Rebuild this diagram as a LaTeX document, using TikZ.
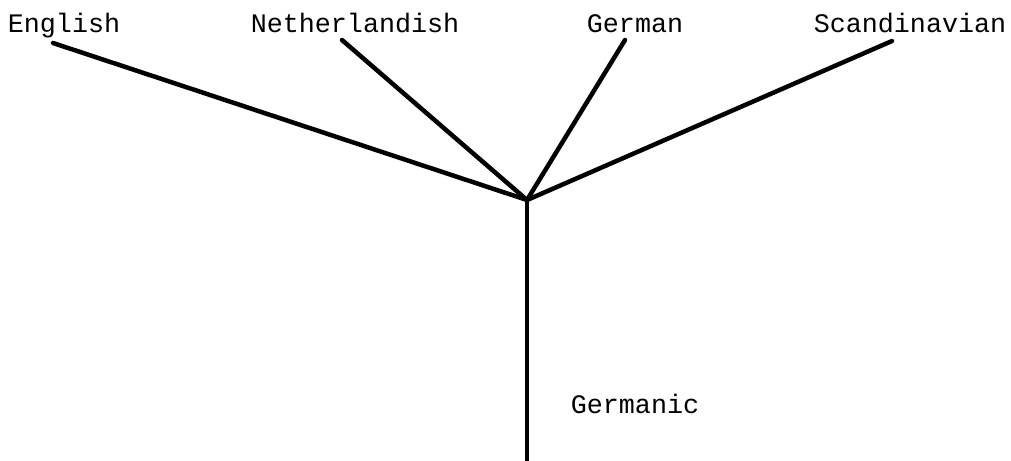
\documentclass[tikz,border=0pt]{standalone}
\usepackage{fontspec}
\setmonofont{Liberation Mono}
\usepackage{tikz}
\usetikzlibrary{positioning}

\begin{document}
\begin{tikzpicture}[
    x=0.025cm, y=-0.025cm,
    lang/.style={font=\ttfamily\fontsize{19}{19}\selectfont, inner sep=0pt, anchor=base},
    branch/.style={line width=3.2pt, line cap=round},
]
\useasboundingbox (0,0) rectangle (1011,460);

% labels
\node[lang] (english) at (64,32) {English};
\node[lang] (nether) at (355,32) {Netherlandish};
\node[lang] (german) at (635,32) {German};
\node[lang] (scand) at (910,32) {Scandinavian};
\node[lang] (germanic) at (635,413) {Germanic};

% branch ends
\coordinate (hub) at (527,200);
\coordinate (en) at (53,43);
\coordinate (ne) at (342,40);
\coordinate (ge) at (625,40);
\coordinate (sc) at (892,41);
\coordinate (root) at (527,462);

\draw[branch] (en) -- (hub);
\draw[branch] (ne) -- (hub);
\draw[branch] (ge) -- (hub);
\draw[branch] (sc) -- (hub);
\draw[branch] (hub) -- (root);

\end{tikzpicture}
\end{document}
